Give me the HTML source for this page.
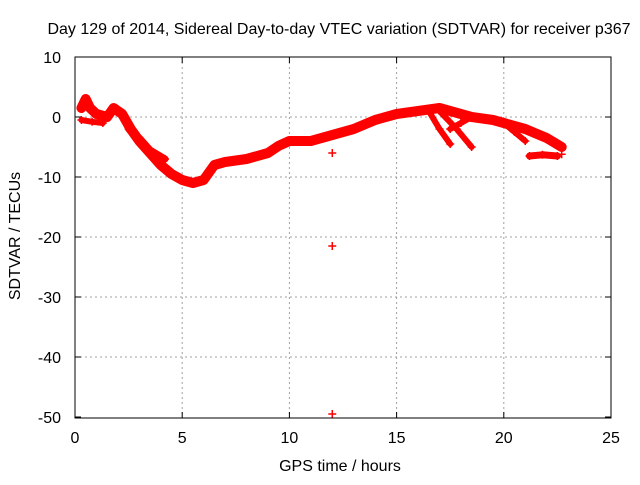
<!DOCTYPE html>
<html><head><meta charset="utf-8"><style>
body{margin:0;background:#fff;width:640px;height:480px;overflow:hidden}
text{font-family:"Liberation Sans",sans-serif;font-size:16px;fill:#000}
</style></head><body>
<svg id="chart" width="640" height="480" xmlns="http://www.w3.org/2000/svg">
<text x="339" y="34" text-anchor="middle">Day 129 of 2014, Sidereal Day-to-day VTEC variation (SDTVAR) for receiver p367</text>
<text x="340" y="471" text-anchor="middle">GPS time / hours</text>
<text transform="translate(20,236) rotate(-90)" text-anchor="middle">SDTVAR / TECUs</text>
<g id="grid"></g><g id="data"></g>
<rect x="75" y="57" width="536" height="361" fill="none" stroke="#000" stroke-width="1"/>
</svg>
<script>
const xTicks=[0,5,10,15,20,25];
const yTicks=[10,0,-10,-20,-30,-40,-50];
const mainHours=[0.3,0.5,0.7,1.0,1.5,1.8,2.2,2.6,3.0,3.5,4.0,4.5,5.0,5.5,6.0,6.5,7.0,8.0,9.0,9.5,10.0,11.0,12.0,12.5,13.0,14.0,15.0,16.0,17.0,17.5,18.5,19.5,20.0,21.0,22.0,22.7];
const mainValues=[1.5,3,1.5,0.5,0,1.5,0.5,-2,-4,-6,-8,-9.5,-10.5,-11,-10.5,-8,-7.5,-7,-6,-4.8,-4,-4,-3,-2.5,-2,-0.5,0.5,1,1.5,1,0,-0.5,-1,-2,-3.5,-5];
const branchA_h=[2.5,3.0,3.5,4.2];
const branchA_v=[-2,-3.5,-5.5,-7];
const branchB_h=[0.3,0.8,1.3];
const branchB_v=[-0.5,-0.8,-1];
const branchC_h=[16.5,17.0,17.5];
const branchC_v=[1,-2,-4.5];
const branchD_h=[17.0,17.8,18.5];
const branchD_v=[1,-2,-5];
const branchE_h=[17.5,18.0,18.5];
const branchE_v=[-2,-1,0];
const branchF_h=[20.0,20.5,21.0];
const branchF_v=[-1,-2.5,-4];
const branchG_h=[21.2,21.8,22.5];
const branchG_v=[-6.5,-6.3,-6.5];
const outlierHours=[12,12,12,22.7,22.7];
const outlierValues=[-6,-21.5,-49.5,-5,-6.2];
const sx=h=>75+h*(536/25);
const sy=v=>117-v*6;
const NS='http://www.w3.org/2000/svg';
const grid=document.getElementById('grid'),data=document.getElementById('data'),svg=document.getElementById('chart');
xTicks.forEach(t=>{
 const x=sx(t);
 if(t>0&&t<25){const l=document.createElementNS(NS,'line');
 
 
 l.setAttribute('x1',x);l.setAttribute('x2',x);l.setAttribute('y1',57);l.setAttribute('y2',418);
 l.setAttribute('stroke','#a0a0a0');l.setAttribute('stroke-dasharray','2,3');grid.appendChild(l);}
 const tk=document.createElementNS(NS,'path');
 
 
 tk.setAttribute('d',`M${x},418v-6M${x},57v6`);tk.setAttribute('stroke','#000');grid.appendChild(tk);
 const tx=document.createElementNS(NS,'text');
 
 
 tx.setAttribute('x',x);tx.setAttribute('y',443);tx.setAttribute('text-anchor','middle');tx.textContent=t;svg.appendChild(tx);
});
yTicks.forEach(t=>{
 const y=sy(t);
 if(t<10&&t>-50){const l=document.createElementNS(NS,'line');
 
 
 l.setAttribute('x1',75);l.setAttribute('x2',611);l.setAttribute('y1',y);l.setAttribute('y2',y);
 l.setAttribute('stroke','#a0a0a0');l.setAttribute('stroke-dasharray','2,3');grid.appendChild(l);}
 const tk=document.createElementNS(NS,'path');
 
 
 tk.setAttribute('d',`M75,${y}h6M611,${y}h-6`);tk.setAttribute('stroke','#000');grid.appendChild(tk);
 const tx=document.createElementNS(NS,'text');
 
 
 tx.setAttribute('x',61);tx.setAttribute('y',y+6);tx.setAttribute('text-anchor','end');tx.textContent=t;svg.appendChild(tx);
});
function plus(h,v){
 const p=document.createElementNS(NS,'path');
 
 
 const x=sx(h),y=sy(v);
 p.setAttribute('d',`M${x-4},${y}h8M${x},${y-4}v8`);p.setAttribute('stroke','#f00');p.setAttribute('stroke-width','1.5');data.appendChild(p);
}
function track(hs,vs,w,name){
 const pl=document.createElementNS(NS,'polyline');
 
 
 pl.setAttribute('points',hs.map((h,i)=>sx(h)+','+sy(vs[i])).join(' '));
 pl.setAttribute('fill','none');pl.setAttribute('stroke','#f00');pl.setAttribute('stroke-width',w);pl.setAttribute('stroke-linejoin','round');pl.setAttribute('stroke-linecap','round');
 data.appendChild(pl);
 hs.forEach((h,i)=>plus(h,vs[i]));
}
track(mainHours,mainValues,10,'main-track');
track(branchA_h,branchA_v,7,'branch-a');
track(branchB_h,branchB_v,6,'branch-b');
track(branchC_h,branchC_v,6,'branch-c');
track(branchD_h,branchD_v,6,'branch-d');
track(branchE_h,branchE_v,6,'branch-e');
track(branchF_h,branchF_v,6,'branch-f');
track(branchG_h,branchG_v,7,'branch-g');
outlierHours.forEach((h,i)=>plus(h,outlierValues[i]));
</script>
</body></html>
